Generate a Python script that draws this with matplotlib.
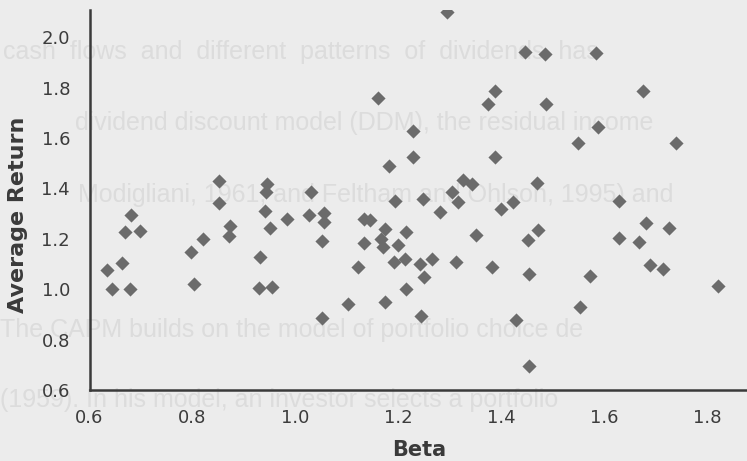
import matplotlib
matplotlib.use('Agg')
import matplotlib.pyplot as plt

# beta and average return of each portfolio
beta = [0.680, 0.669, 0.698, 0.663, 0.634, 0.643, 0.678, 0.852, 0.852, 0.872,
        0.871, 0.821, 0.798, 0.802, 0.944, 0.942, 0.941, 0.950, 0.984, 0.931,
        0.929, 0.955, 1.030, 1.026, 1.055, 1.056, 1.052, 1.194, 1.248, 1.280,
        1.305, 1.315, 1.325, 1.343, 1.134, 1.145, 1.173, 1.166, 1.170, 1.215,
        1.133, 1.199, 1.192, 1.212, 1.241, 1.265, 1.250, 1.312, 1.350, 1.381,
        1.121, 1.215, 1.103, 1.173, 1.243, 1.052, 1.428, 1.453, 1.181, 1.228,
        1.387, 1.160, 1.228, 1.295, 1.388, 1.373, 1.445, 1.485, 1.583, 1.675,
        1.487, 1.588, 1.549, 1.739, 1.470, 1.423, 1.400, 1.628, 1.471, 1.452,
        1.680, 1.726, 1.629, 1.668, 1.689, 1.713, 1.821, 1.453, 1.572, 1.552]
avg_return = [1.294, 1.228, 1.232, 1.103, 1.076, 1.000, 1.000, 1.429, 1.341, 1.251,
              1.211, 1.198, 1.149, 1.021, 1.417, 1.386, 1.312, 1.244, 1.277, 1.128,
              1.003, 1.007, 1.384, 1.294, 1.302, 1.265, 1.191, 1.351, 1.358, 1.308,
              1.385, 1.348, 1.433, 1.417, 1.277, 1.275, 1.238, 1.199, 1.166, 1.227,
              1.183, 1.175, 1.109, 1.119, 1.100, 1.119, 1.050, 1.109, 1.217, 1.088,
              1.090, 1.001, 0.941, 0.951, 0.894, 0.885, 0.878, 0.695, 1.487, 1.525,
              1.525, 1.760, 1.628, 2.099, 1.787, 1.733, 1.943, 1.933, 1.936, 1.788,
              1.736, 1.642, 1.581, 1.580, 1.421, 1.345, 1.319, 1.352, 1.235, 1.196,
              1.263, 1.243, 1.203, 1.187, 1.096, 1.079, 1.013, 1.059, 1.054, 0.931]

xticks = [0.6, 0.8, 1.0, 1.2, 1.4, 1.6, 1.8]
yticks = [0.6, 0.8, 1.0, 1.2, 1.4, 1.6, 1.8, 2.0]

# text from the page that shows through the scan
ghost_lines = ["cash  flows  and  different  patterns  of  dividends  has",
               "dividend discount model (DDM), the residual income",
               "Modigliani, 1961; and Feltham and Ohlson, 1995) and",
               "The CAPM builds on the model of portfolio choice de",
               "(1959). In his model, an investor selects a portfolio"]
ghost_pos = [(0.004, 52), (0.100, 123), (0.105, 195), (0.0, 330), (0.0, 400)]

bg = '#ececec'
fig = plt.figure(figsize=(7.47, 4.61), dpi=100, facecolor=bg)

# drawn under the axes, like show-through on the paper
for line, (gx, gy) in zip(ghost_lines, ghost_pos):
    fig.text(gx, 1 - gy / 461, line, fontsize=18, family='Liberation Sans',
             color='#dcdcdc', va='center', ha='left', zorder=-1)

ax = fig.add_axes([89.5 / 747, 71 / 461, 1 - 89.5 / 747, 380 / 461])
ax.patch.set_alpha(0)
ax.scatter(beta, avg_return, marker='D', s=52, color='#6b6b6b',
           linewidths=0, zorder=3)

ax.set_xlim(0.6, 1.877)
ax.set_ylim(0.6, 2.108)
ax.set_xticks(xticks)
ax.set_yticks(yticks)
ax.set_xticklabels(['%.1f' % t for t in xticks])
ax.set_yticklabels(['%.1f' % t for t in yticks])
ax.tick_params(length=0, pad=14, labelsize=13, labelcolor='#3c3c3c')

for s in ['top', 'right']:
    ax.spines[s].set_visible(False)
for s in ['left', 'bottom']:
    ax.spines[s].set_color('#3a3a3a')
    ax.spines[s].set_linewidth(1.8)

ax.set_xlabel('Beta', fontsize=15, fontweight='bold', color='#3a3a3a')
ax.set_ylabel('Average Return', fontsize=16, fontweight='bold', color='#3a3a3a')
ax.xaxis.set_label_coords(0.501, -0.132)
ax.yaxis.set_label_coords(-0.094, 0.46)

fig.savefig('out.png', dpi=100, facecolor=bg)
